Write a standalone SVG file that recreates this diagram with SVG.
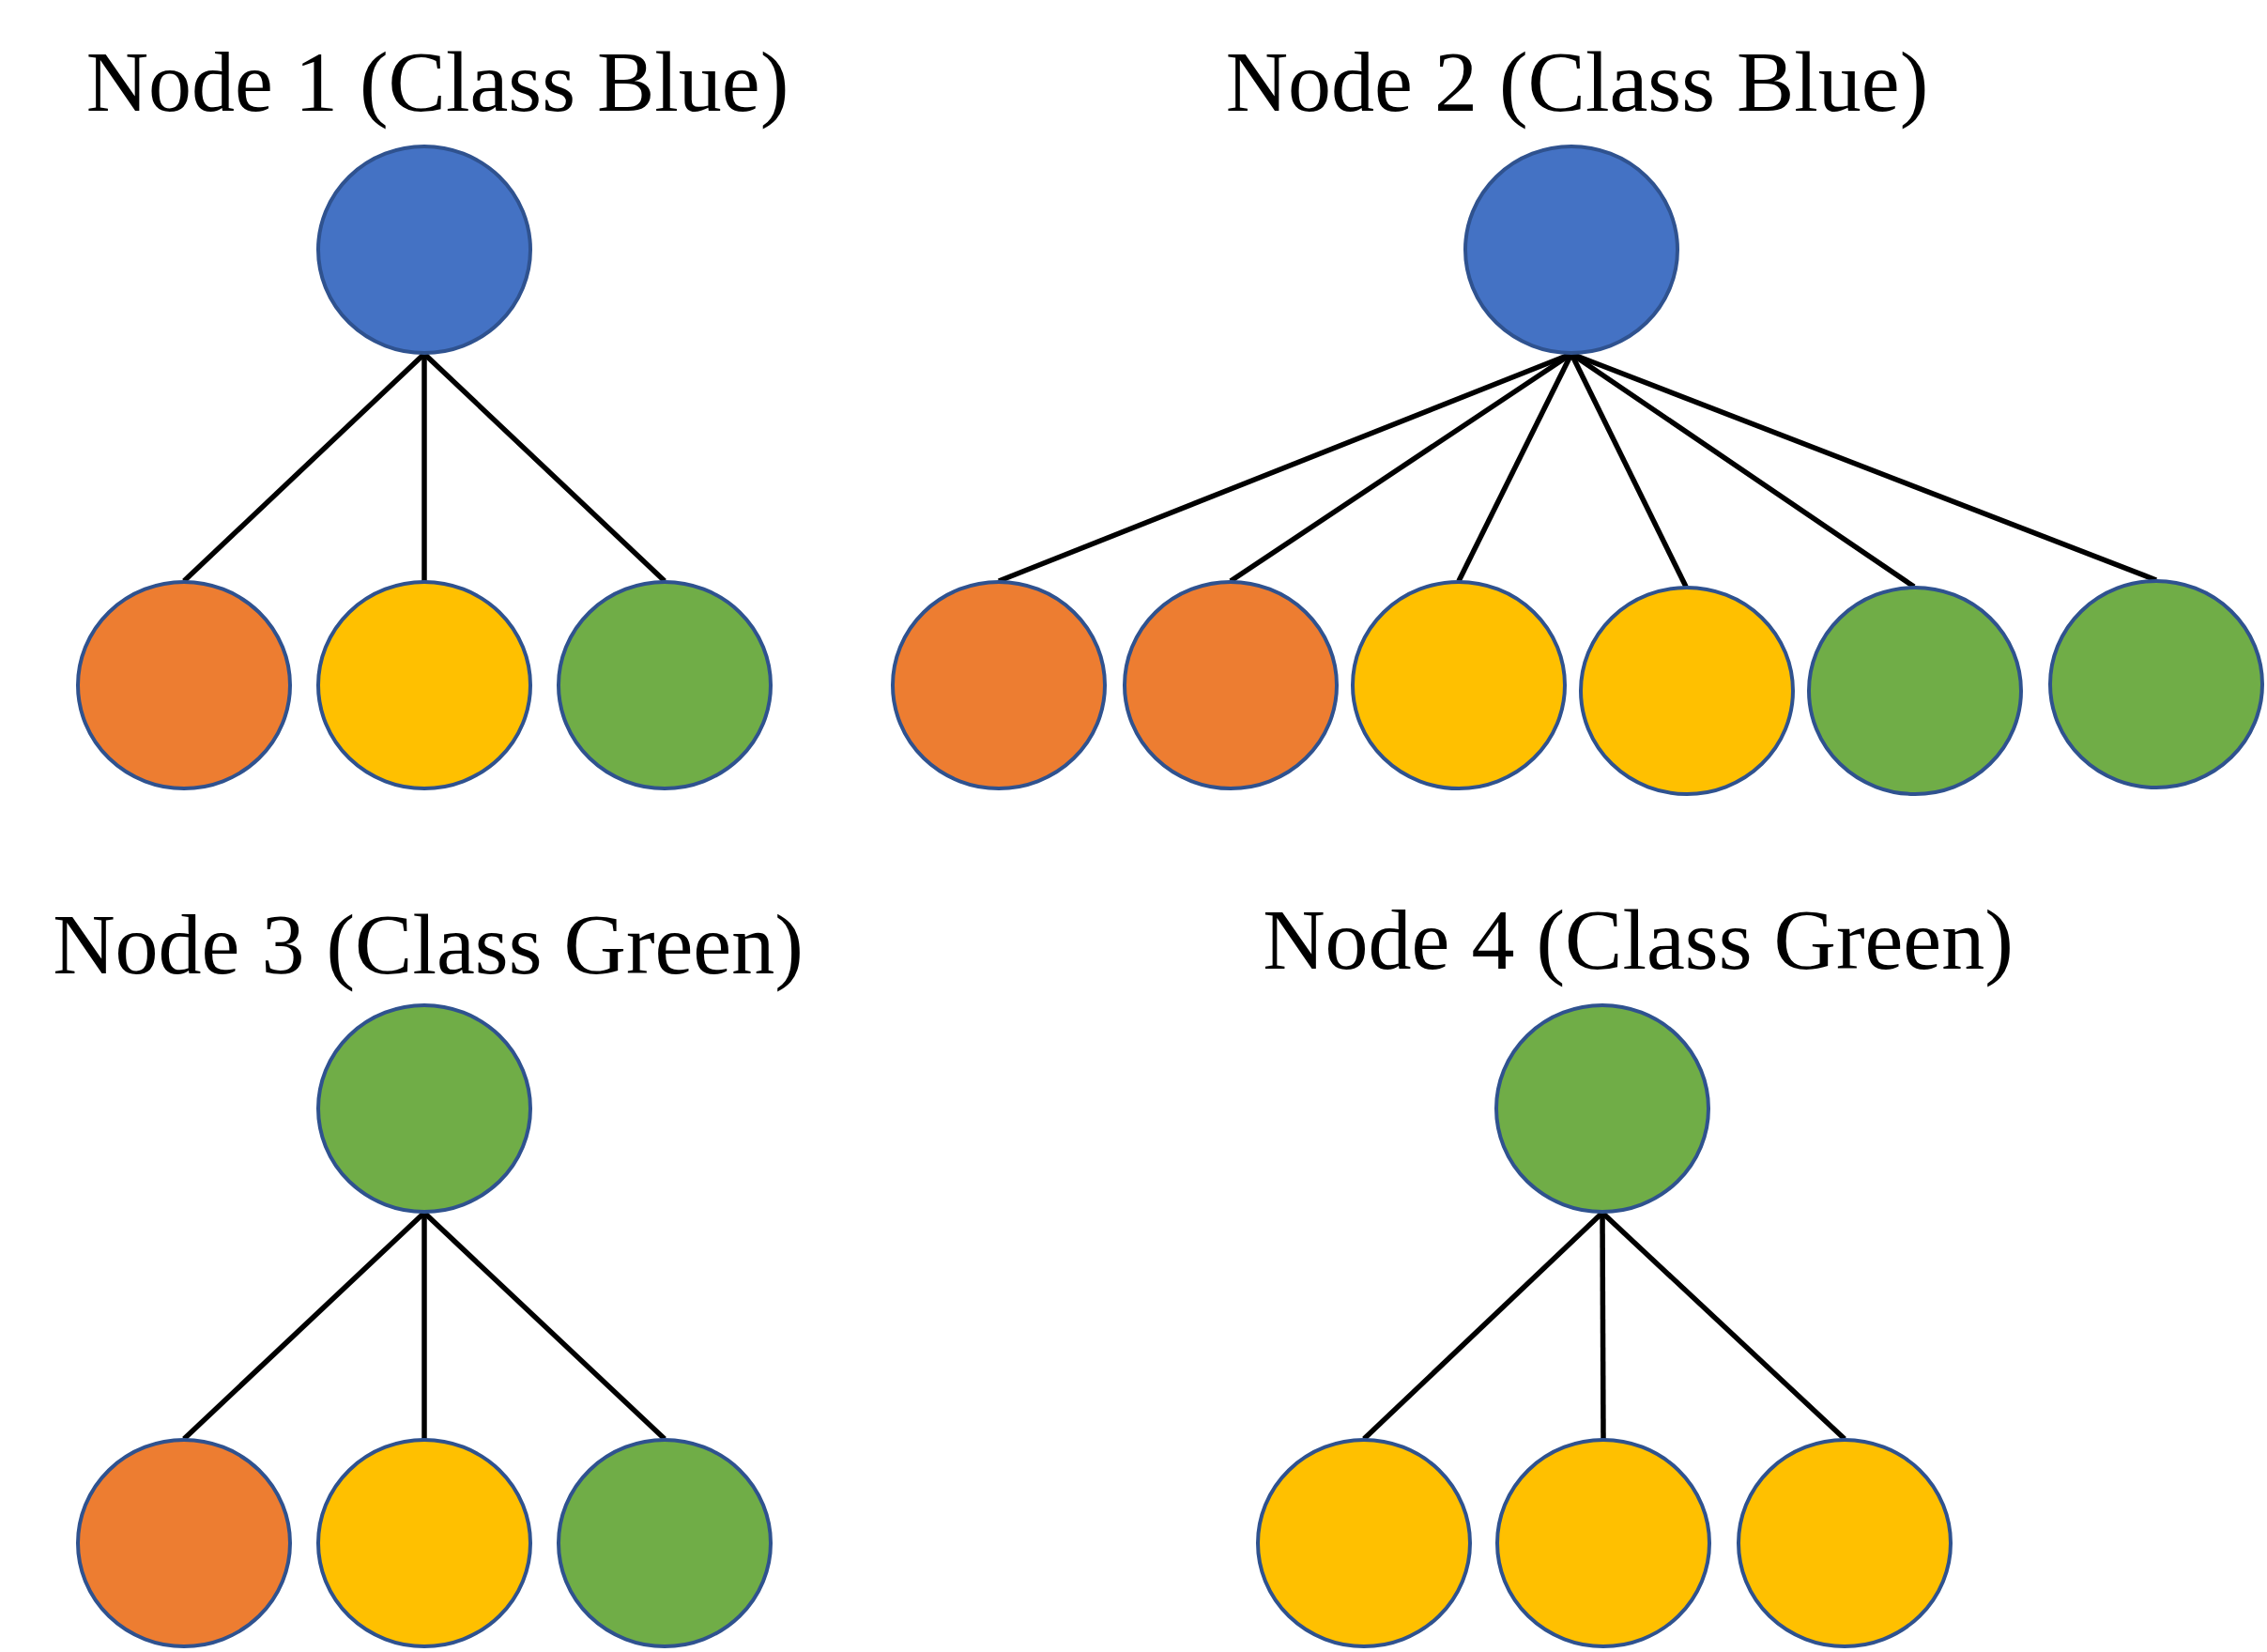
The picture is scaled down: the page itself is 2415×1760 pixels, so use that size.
<svg xmlns="http://www.w3.org/2000/svg" width="2415" height="1760" viewBox="0 0 2415 1760">
<style>
  .title { font-family: "Liberation Serif", "Times New Roman", serif; font-size: 92px; fill: #000; text-anchor: middle; }
  .n { stroke: #2F528F; stroke-width: 4; }
  .blue { fill: #4472C4; }
  .orange { fill: #ED7D31; }
  .yellow { fill: #FFC000; }
  .green { fill: #70AD47; }
  .edges line { stroke: #000; stroke-width: 5.5; }
</style>
<rect width="2415" height="1760" fill="#fff"/>

<text class="title" x="466" y="118">Node 1 (Class Blue)</text>
<text class="title" x="1680" y="118">Node 2 (Class Blue)</text>
<text class="title" x="456" y="1037">Node 3 (Class Green)</text>
<text class="title" x="1745" y="1032">Node 4 (Class Green)</text>

<g id="connectors" class="edges">
  <line x1="452" y1="377" x2="196" y2="619"/>
  <line x1="452" y1="377" x2="452" y2="619"/>
  <line x1="452" y1="377" x2="708" y2="619"/>

  <line x1="1674" y1="377" x2="1064" y2="619"/>
  <line x1="1674" y1="377" x2="1311" y2="619"/>
  <line x1="1674" y1="377" x2="1554" y2="619"/>
  <line x1="1674" y1="377" x2="1796" y2="625"/>
  <line x1="1674" y1="377" x2="2039" y2="625"/>
  <line x1="1674" y1="377" x2="2297" y2="618"/>

  <line x1="452" y1="1292" x2="196" y2="1533"/>
  <line x1="452" y1="1292" x2="452" y2="1533"/>
  <line x1="452" y1="1292" x2="708" y2="1533"/>

  <line x1="1707" y1="1292" x2="1453" y2="1533"/>
  <line x1="1707" y1="1292" x2="1708" y2="1533"/>
  <line x1="1707" y1="1292" x2="1965" y2="1533"/>
</g>

<g id="node1"><ellipse class="n blue" cx="452" cy="266" rx="113" ry="110"/></g>
<g id="node1-c1"><ellipse class="n orange" cx="196" cy="730" rx="113" ry="110"/></g>
<g id="node1-c2"><ellipse class="n yellow" cx="452" cy="730" rx="113" ry="110"/></g>
<g id="node1-c3"><ellipse class="n green" cx="708" cy="730" rx="113" ry="110"/></g>

<g id="node2"><ellipse class="n blue" cx="1674" cy="266" rx="113" ry="110"/></g>
<g id="node2-c1"><ellipse class="n orange" cx="1064" cy="730" rx="113" ry="110"/></g>
<g id="node2-c2"><ellipse class="n orange" cx="1311" cy="730" rx="113" ry="110"/></g>
<g id="node2-c3"><ellipse class="n yellow" cx="1554" cy="730" rx="113" ry="110"/></g>
<g id="node2-c4"><ellipse class="n yellow" cx="1797" cy="736" rx="113" ry="110"/></g>
<g id="node2-c5"><ellipse class="n green" cx="2040" cy="736" rx="113" ry="110"/></g>
<g id="node2-c6"><ellipse class="n green" cx="2297" cy="729" rx="113" ry="110"/></g>

<g id="node3"><ellipse class="n green" cx="452" cy="1181" rx="113" ry="110"/></g>
<g id="node3-c1"><ellipse class="n orange" cx="196" cy="1644" rx="113" ry="110"/></g>
<g id="node3-c2"><ellipse class="n yellow" cx="452" cy="1644" rx="113" ry="110"/></g>
<g id="node3-c3"><ellipse class="n green" cx="708" cy="1644" rx="113" ry="110"/></g>

<g id="node4"><ellipse class="n green" cx="1707" cy="1181" rx="113" ry="110"/></g>
<g id="node4-c1"><ellipse class="n yellow" cx="1453" cy="1644" rx="113" ry="110"/></g>
<g id="node4-c2"><ellipse class="n yellow" cx="1708" cy="1644" rx="113" ry="110"/></g>
<g id="node4-c3"><ellipse class="n yellow" cx="1965" cy="1644" rx="113" ry="110"/></g>
</svg>
